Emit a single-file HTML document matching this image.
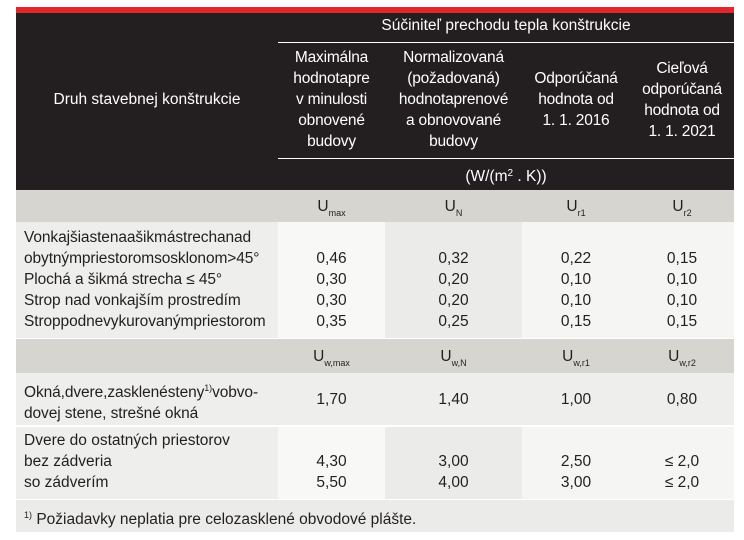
<!DOCTYPE html>
<html><head><meta charset="utf-8"><style>
body{margin:0;width:744px;height:540px;background:#fff;position:relative;overflow:hidden;font-family:"Liberation Sans",sans-serif;font-size:15.5px;color:#231f20}
div{position:absolute;box-sizing:border-box}
.c{text-align:center;white-space:nowrap}
.w{color:#fff}
.t{line-height:21px;white-space:nowrap}
.h{line-height:21px;white-space:nowrap;letter-spacing:-0.2px}
sub{font-size:9px;vertical-align:-5px}
</style></head><body>
<div style="left:16px;top:7px;width:718px;height:6px;background:#e3262a"></div>
<div style="left:16px;top:13px;width:718px;height:177px;background:#231f20"></div>
<div style="left:278px;top:42px;width:456px;height:1px;background:#fff"></div>
<div style="left:278px;top:158px;width:456px;height:1px;background:#fff"></div>
<div class="c w" style="left:278px;top:15px;width:456px;line-height:22px">Súčiniteľ prechodu tepla konštrukcie</div>
<div class="c w" style="left:16px;top:89px;width:262px;line-height:22px">Druh stavebnej konštrukcie</div>
<div class="c w h" style="left:278px;top:47px;width:107px">Maximálna<br>hodnotapre<br>v&nbsp;minulosti<br>obnovené<br>budovy</div>
<div class="c w h" style="left:385px;top:47px;width:137px">Normalizovaná<br>(požadovaná)<br>hodnotaprenové<br>a obnovované<br>budovy</div>
<div class="c w h" style="left:522px;top:68px;width:108px">Odporúčaná<br>hodnota od<br>1. 1. 2016</div>
<div class="c w h" style="left:630px;top:58px;width:104px">Cieľová<br>odporúčaná<br>hodnota od<br>1. 1. 2021</div>
<div class="c w" style="left:278px;top:163px;width:456px;line-height:22px">(W/(m<span style="font-size:10px;vertical-align:5px">2</span> . K))</div>

<div style="left:16px;top:190px;width:718px;height:32px;background:#d6d5d0"></div>
<div class="c t" style="left:278px;top:196px;width:107px">U<sub>max</sub></div>
<div class="c t" style="left:385px;top:196px;width:137px">U<sub>N</sub></div>
<div class="c t" style="left:522px;top:196px;width:108px">U<sub>r1</sub></div>
<div class="c t" style="left:630px;top:196px;width:104px">U<sub>r2</sub></div>

<div style="left:16px;top:222px;width:262px;height:116px;background:#eeeeec"></div>
<div style="left:278px;top:222px;width:107px;height:116px;background:#f8f8f6"></div>
<div style="left:385px;top:222px;width:137px;height:116px;background:#ebebe9"></div>
<div style="left:522px;top:222px;width:212px;height:116px;background:#f5f5f3"></div>
<div class="t" style="left:24px;top:227px;letter-spacing:-0.1px">Vonkajšiastenaašikmástrechanad<br>obytnýmpriestoromsosklonom&gt;45°<br>Plochá a šikmá strecha ≤ 45°<br>Strop nad vonkajším prostredím<br>Stroppodnevykurovanýmpriestorom</div>
<div class="c t" style="left:278px;top:248px;width:107px">0,46<br>0,30<br>0,30<br>0,35</div>
<div class="c t" style="left:385px;top:248px;width:137px">0,32<br>0,20<br>0,20<br>0,25</div>
<div class="c t" style="left:522px;top:248px;width:108px">0,22<br>0,10<br>0,10<br>0,15</div>
<div class="c t" style="left:630px;top:248px;width:104px">0,15<br>0,10<br>0,10<br>0,15</div>

<div style="left:16px;top:339px;width:718px;height:34px;background:#d6d5d0"></div>
<div class="c t" style="left:278px;top:346px;width:107px">U<sub>w,max</sub></div>
<div class="c t" style="left:385px;top:346px;width:137px">U<sub>w,N</sub></div>
<div class="c t" style="left:522px;top:346px;width:108px">U<sub>w,r1</sub></div>
<div class="c t" style="left:630px;top:346px;width:104px">U<sub>w,r2</sub></div>

<div style="left:16px;top:373px;width:718px;height:52px;background:#eeeeec"></div>
<div class="t" style="left:24px;top:378px;letter-spacing:-0.1px">Okná,dvere,zasklenésteny<span style="font-size:9px;vertical-align:6px">1)</span>vobvo-<br>dovej stene, strešné okná</div>
<div class="c t" style="left:278px;top:389px;width:107px">1,70</div>
<div class="c t" style="left:385px;top:389px;width:137px">1,40</div>
<div class="c t" style="left:522px;top:389px;width:108px">1,00</div>
<div class="c t" style="left:630px;top:389px;width:104px">0,80</div>

<div style="left:16px;top:427px;width:262px;height:72px;background:#eeeeec"></div>
<div style="left:278px;top:427px;width:107px;height:72px;background:#f8f8f6"></div>
<div style="left:385px;top:427px;width:137px;height:72px;background:#ebebe9"></div>
<div style="left:522px;top:427px;width:212px;height:72px;background:#f5f5f3"></div>
<div class="t" style="left:24px;top:430px">Dvere do ostatných priestorov<br>bez zádveria<br>so zádverím</div>
<div class="c t" style="left:278px;top:451px;width:107px">4,30<br>5,50</div>
<div class="c t" style="left:385px;top:451px;width:137px">3,00<br>4,00</div>
<div class="c t" style="left:522px;top:451px;width:108px">2,50<br>3,00</div>
<div class="c t" style="left:630px;top:451px;width:104px">≤ 2,0<br>≤ 2,0</div>

<div style="left:16px;top:500px;width:718px;height:32px;background:#ebebe9"></div>
<div class="t" style="left:24px;top:505px"><span style="font-size:9px;vertical-align:6px">1)</span> Požiadavky neplatia pre celozasklené obvodové plášte.</div>
</body></html>
